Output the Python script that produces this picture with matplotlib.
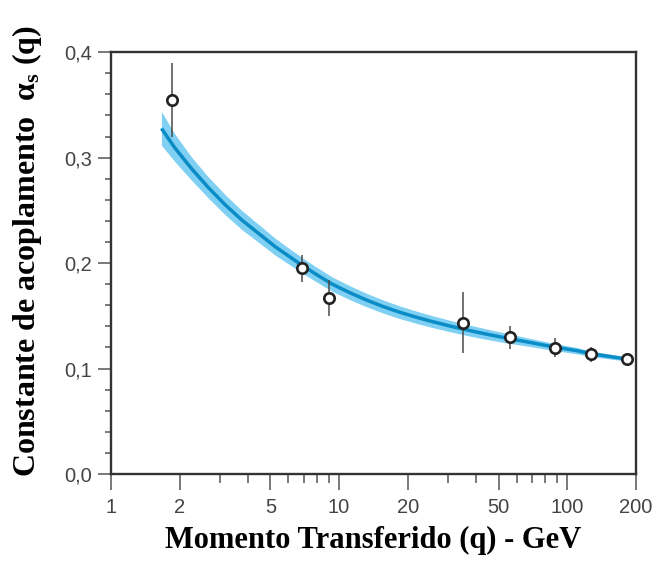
import numpy as np
import matplotlib
matplotlib.use('Agg')
import matplotlib.pyplot as plt
from matplotlib.ticker import FixedLocator, FuncFormatter, MultipleLocator

# pontos experimentais
q_pts = [1.85, 6.9, 9.0, 34.9, 56.0, 88.5, 127.6, 183.0]
a_pts = [0.3545, 0.195, 0.167, 0.1434, 0.1295, 0.1197, 0.1137, 0.1087]
a_err = [0.035, 0.013, 0.017, 0.029, 0.011, 0.009, 0.007, 0.0]

# curva teorica e meia-largura da faixa
q_curve = [1.666, 1.908, 2.258, 2.675, 3.17, 3.75, 4.442, 5.262, 6.227, 7.0, 7.89,
           9.34, 11.07, 13.11, 15.51, 18.38, 21.78, 25.77, 30.52, 36.14, 42.8,
           50.7, 65.0, 88.5, 110.0, 127.6, 155.0, 183.0]
a_curve = [0.3277, 0.3092, 0.2895, 0.2716, 0.2553, 0.2408, 0.2281, 0.2154, 0.2044,
           0.1969, 0.1897, 0.1800, 0.1722, 0.1652, 0.1590, 0.1535, 0.1487, 0.1444,
           0.1404, 0.1367, 0.1333, 0.1301, 0.1257, 0.1203, 0.1170, 0.1140, 0.1113,
           0.1090]
a_band = [0.016, 0.013, 0.011, 0.0100, 0.0095, 0.009, 0.0085, 0.008, 0.0075, 0.0072,
          0.007, 0.0068, 0.0066, 0.0064, 0.0062, 0.006, 0.0058, 0.0056, 0.0054,
          0.0052, 0.005, 0.0047, 0.004, 0.0033, 0.003, 0.0026, 0.0023, 0.002]

x_ticks = [1, 2, 5, 10, 20, 50, 100, 200]
x_minor = [3, 4, 6, 7, 8, 9, 30, 40, 60, 70, 80, 90]

plt.rcParams['mathtext.fontset'] = 'custom'
plt.rcParams['mathtext.rm'] = 'Liberation Serif'
plt.rcParams['mathtext.it'] = 'Liberation Serif:bold'
plt.rcParams['mathtext.bf'] = 'Liberation Serif:bold'

fig = plt.figure(figsize=(6.56, 5.61), dpi=100, facecolor='white')
ax = fig.add_axes([0.169, 0.155, 0.8005, 0.752])

qc = np.array(q_curve)
ac = np.array(a_curve)
bd = np.array(a_band)
ax.fill_between(qc, ac - bd, ac + bd, color='#7fd0f2', lw=0, zorder=1)
ax.plot(qc, ac, color='#0a8cc6', lw=2.5, zorder=2, solid_capstyle='butt')

ax.errorbar(q_pts, a_pts, yerr=a_err, fmt='o', ms=7.5, mfc='white', mec='#222222',
            mew=1.9, ecolor='#4a4a4a', elinewidth=1.1, capsize=0, zorder=3)

ax.set_xscale('log')
ax.set_xlim(1, 200)
ax.set_ylim(0, 0.4)
ax.xaxis.set_major_locator(FixedLocator(x_ticks))
ax.xaxis.set_minor_locator(FixedLocator(x_minor))
ax.xaxis.set_major_formatter(FuncFormatter(lambda v, p: '%d' % v))
ax.xaxis.set_minor_formatter(FuncFormatter(lambda v, p: ''))
ax.yaxis.set_major_locator(MultipleLocator(0.1))
ax.yaxis.set_minor_locator(MultipleLocator(0.02))
ax.yaxis.set_major_formatter(FuncFormatter(lambda v, p: ('%.1f' % v).replace('.', ',')))

for s in ax.spines.values():
    s.set_color('#333333')
    s.set_linewidth(1.7)

ax.tick_params(axis='x', which='major', direction='out', length=11.5, width=1.1,
               color='#555555', labelsize=14.5, labelcolor='#444444', pad=6)
ax.tick_params(axis='x', which='minor', direction='out', length=6.5, width=1.1,
               color='#555555')
ax.tick_params(axis='y', which='major', direction='out', length=9.5, width=1.1,
               color='#555555', labelsize=14.5, labelcolor='#444444', pad=4)
ax.tick_params(axis='y', which='minor', direction='out', length=4, width=1.1,
               color='#555555')
for lb in ax.get_xticklabels() + ax.get_yticklabels():
    lb.set_fontfamily('Liberation Sans')

ax.set_xlabel('Momento Transferido (q) - GeV', fontsize=22, fontweight='bold',
              family='Liberation Serif', color='black')
ax.xaxis.set_label_coords(0.5, -0.124)
ax.set_ylabel(r'Constante de acoplamento  $\alpha_s$ (q)', fontsize=23,
              fontweight='bold', family='Liberation Serif', color='black')
ax.yaxis.set_label_coords(-0.128, 0.528)

fig.savefig('out.png', dpi=100, facecolor='white')
